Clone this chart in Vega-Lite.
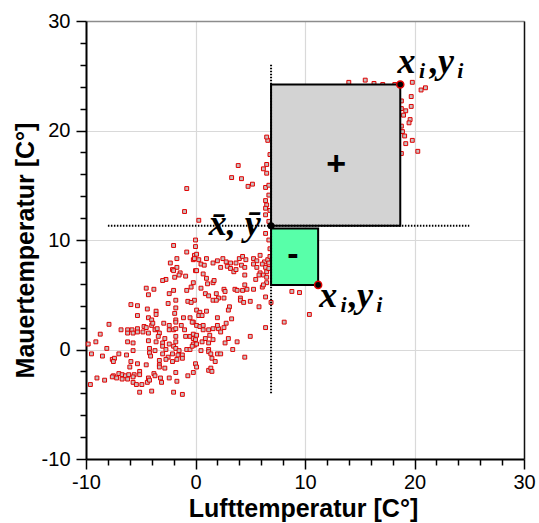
{
"$schema":"https://vega.github.io/schema/vega-lite/v6.json",
"width":438,"height":438,
"autosize":{"type":"none"},
"padding":{"left":86,"top":21,"right":15,"bottom":64},
"background":"white",
"config":{"view":{"stroke":null},"axis":{"labelFont":"Liberation Sans","labelFontSize":20,"labelColor":"black","titleFont":"Liberation Sans","titleFontSize":25,"titleFontWeight":"bold","titleColor":"black"}},
"datasets":{
"pts":[{"x":-2.0,"y":9.5},{"x":-0.8,"y":8.9},{"x":-0.1,"y":8.6},{"x":-1.7,"y":8.3},{"x":-0.2,"y":8.2},{"x":-2.3,"y":7.9},{"x":-1.7,"y":7.5},{"x":-2.1,"y":7.3},{"x":-2.0,"y":7.2},{"x":-1.4,"y":7.0},{"x":-1.5,"y":6.8},{"x":-1.9,"y":6.6},{"x":-0.9,"y":6.7},{"x":0.0,"y":7.2},{"x":-2.7,"y":6.4},{"x":-3.0,"y":6.3},{"x":-0.2,"y":6.1},{"x":-0.4,"y":5.7},{"x":-4.5,"y":5.6},{"x":-3.8,"y":5.5},{"x":-2.0,"y":5.4},{"x":-2.4,"y":5.1},{"x":-0.8,"y":5.4},{"x":-4.3,"y":5.0},{"x":-1.8,"y":4.5},{"x":-0.7,"y":4.4},{"x":-0.1,"y":4.5},{"x":-5.9,"y":4.1},{"x":-5.3,"y":4.0},{"x":-2.5,"y":4.2},{"x":-1.8,"y":3.8},{"x":-4.4,"y":3.7},{"x":-3.6,"y":3.5},{"x":-3.6,"y":3.2},{"x":-5.3,"y":3.1},{"x":-4.3,"y":2.9},{"x":-4.0,"y":2.7},{"x":-1.8,"y":2.7},{"x":-1.1,"y":2.9},{"x":-0.5,"y":2.9},
{"x":-1.9,"y":3.3},{"x":-0.2,"y":2.5},{"x":0.1,"y":2.2},{"x":-7.9,"y":2.3},{"x":-4.7,"y":2.1},{"x":-4.5,"y":2.0},{"x":-4.0,"y":2.2},{"x":-3.9,"y":2.4},{"x":-2.9,"y":2.4},{"x":-2.4,"y":2.2},{"x":-1.8,"y":2.5},{"x":-1.3,"y":2.2},{"x":-6.8,"y":1.8},{"x":-6.2,"y":1.8},{"x":-5.8,"y":1.8},{"x":-5.3,"y":1.9},{"x":-6.2,"y":1.5},{"x":-5.7,"y":1.5},{"x":-5.3,"y":1.6},{"x":-4.8,"y":1.6},{"x":-4.3,"y":1.5},{"x":-3.7,"y":1.8},{"x":-3.5,"y":1.9},{"x":-3.3,"y":1.5},{"x":-2.4,"y":1.8},{"x":-2.0,"y":1.8},{"x":-1.8,"y":1.9},{"x":-1.0,"y":1.8},{"x":-8.7,"y":1.4},{"x":-3.4,"y":1.2},{"x":-2.8,"y":1.0},{"x":-1.8,"y":1.2},{"x":-0.9,"y":1.2},{"x":-0.5,"y":1.2},{"x":-0.2,"y":1.0},{"x":-9.8,"y":0.5},{"x":-9.1,"y":0.7},{"x":-6.2,"y":0.7},{"x":-5.7,"y":0.6},{"x":-4.3,"y":0.8},{"x":-3.6,"y":0.7},{"x":-3.0,"y":0.6},{"x":-2.4,"y":0.5},{"x":-1.8,"y":0.7},{"x":-8.1,"y":0.1},{"x":-5.7,"y":-0.1},{"x":-4.2,"y":0.1},{"x":-3.7,"y":-0.1},{"x":-3.0,"y":0.3},{"x":-2.7,"y":0.0},{"x":-2.0,"y":0.3},{"x":-1.8,"y":0.1},{"x":-1.5,"y":-0.1},{"x":-0.8,"y":0.0},{"x":-0.5,"y":0.0},{"x":-0.1,"y":0.4},{"x":-9.5,"y":-0.4},{"x":-8.5,"y":-0.6},{"x":-7.0,"y":-0.4},{"x":-6.3,"y":-0.5},{"x":-4.2,"y":-0.3},{"x":-4.1,"y":-0.6},{"x":-3.0,"y":-0.4},{"x":-2.5,"y":-0.7},{"x":-2.1,"y":-0.4},{"x":-1.6,"y":-0.5},{"x":-1.2,"y":-0.5},{"x":-7.6,"y":-0.9},{"x":-7.4,"y":-0.8},{"x":-7.5,"y":-1.1},{"x":-5.9,"y":-1.1},{"x":-5.3,"y":-1.3},{"x":-4.5,"y":-1.4},{"x":-3.3,"y":-1.0},{"x":-3.3,"y":-1.4},{"x":-2.7,"y":-0.9},{"x":-2.1,"y":-1.1},{"x":-1.7,"y":-0.9},{"x":-1.2,"y":-0.8},{"x":-6.0,"y":-1.6},{"x":-3.3,"y":-1.6},{"x":-2.8,"y":-1.7},{"x":-5.1,"y":-2.0},{"x":-3.8,"y":-2.2},{"x":-3.7,"y":-2.4},{"x":-1.8,"y":-2.1},{"x":-0.2,"y":-2.1},{"x":-7.5,"y":-2.4},{"x":-7.0,"y":-2.2},{"x":-6.7,"y":-2.3},{"x":-6.4,"y":-2.4},{"x":-6.1,"y":-2.3},{"x":-5.6,"y":-2.3},{"x":-5.1,"y":-2.3},{"x":-9.0,"y":-2.6},{"x":-8.3,"y":-2.8},{"x":-7.6,"y":-2.5},{"x":-7.2,"y":-2.6},{"x":-6.7,"y":-2.7},{"x":-6.2,"y":-2.7},{"x":-5.7,"y":-2.5},{"x":-0.7,"y":-2.4},{"x":-4.3,"y":-2.6},{"x":-3.2,"y":-2.6},{"x":-2.4,"y":-2.6},{"x":-1.7,"y":-2.9},{"x":-3.1,"y":-3.0},{"x":-9.6,"y":-3.2},{"x":-5.7,"y":-3.0},{"x":-5.4,"y":-3.2},{"x":-4.9,"y":-3.2},{"x":-4.4,"y":-3.0},{"x":-4.2,"y":-2.8},{"x":-5.1,"y":-3.9},{"x":-4.0,"y":-3.8},{"x":-2.0,"y":-3.9},{"x":-1.2,"y":-4.1},
{"x":0.0,"y":9.4},{"x":0.1,"y":8.7},{"x":-0.1,"y":8.3},{"x":0.3,"y":8.2},{"x":1.0,"y":8.3},{"x":1.6,"y":7.9},{"x":2.0,"y":8.1},{"x":2.5,"y":8.3},{"x":2.8,"y":8.0},{"x":3.2,"y":7.9},{"x":3.7,"y":7.9},{"x":4.0,"y":8.3},{"x":4.3,"y":8.5},{"x":4.6,"y":8.2},{"x":5.3,"y":8.3},{"x":5.6,"y":8.1},{"x":5.9,"y":8.6},{"x":6.3,"y":8.0},{"x":6.6,"y":8.2},{"x":6.8,"y":8.5},{"x":0.5,"y":7.8},{"x":0.8,"y":7.7},{"x":2.3,"y":7.5},{"x":2.9,"y":7.6},{"x":3.2,"y":7.4},{"x":3.5,"y":7.1},{"x":3.7,"y":7.3},{"x":4.2,"y":7.7},{"x":4.5,"y":7.5},{"x":5.3,"y":7.8},{"x":5.6,"y":7.5},{"x":6.1,"y":7.8},{"x":6.4,"y":7.5},{"x":6.7,"y":7.9},{"x":0.1,"y":7.2},{"x":0.7,"y":6.9},{"x":1.0,"y":6.5},{"x":4.5,"y":6.8},{"x":5.9,"y":7.0},{"x":6.2,"y":6.8},{"x":6.5,"y":7.1},{"x":6.7,"y":7.4},{"x":0.5,"y":5.6},{"x":1.1,"y":6.0},{"x":1.6,"y":6.1},{"x":1.7,"y":6.3},{"x":2.6,"y":5.5},{"x":2.7,"y":5.3},{"x":3.6,"y":5.5},{"x":3.8,"y":5.4},{"x":4.3,"y":5.4},{"x":4.5,"y":5.9},{"x":4.7,"y":5.5},{"x":5.3,"y":5.5},{"x":5.5,"y":6.4},{"x":5.8,"y":6.8},{"x":6.1,"y":5.7},{"x":6.5,"y":6.1},{"x":6.5,"y":6.6},{"x":0.9,"y":5.1},{"x":1.2,"y":4.9},{"x":1.9,"y":5.1},{"x":2.1,"y":4.7},{"x":1.6,"y":4.5},{"x":1.9,"y":4.5},{"x":2.6,"y":4.7},{"x":4.1,"y":4.7},{"x":4.1,"y":4.5},{"x":4.4,"y":4.3},{"x":5.0,"y":4.4},{"x":5.8,"y":3.9},{"x":-0.4,"y":4.3},{"x":0.1,"y":3.6},{"x":0.4,"y":3.4},{"x":1.0,"y":3.5},{"x":3.1,"y":3.9},{"x":3.0,"y":3.6},{"x":2.0,"y":2.9},{"x":3.3,"y":2.8},{"x":6.9,"y":4.3},
{"x":0.3,"y":3.1},{"x":0.6,"y":3.1},{"x":2.8,"y":2.4},{"x":2.6,"y":2.0},{"x":2.1,"y":1.9},{"x":2.3,"y":1.6},{"x":6.4,"y":2.0},{"x":-0.3,"y":2.5},{"x":0.4,"y":2.1},{"x":0.7,"y":2.2},{"x":0.7,"y":1.8},{"x":1.2,"y":1.8},{"x":1.6,"y":1.9},{"x":2.0,"y":2.2},{"x":1.3,"y":1.3},{"x":1.6,"y":0.9},{"x":1.2,"y":0.6},{"x":3.0,"y":1.0},{"x":2.7,"y":0.6},{"x":3.8,"y":0.7},{"x":5.0,"y":1.2},{"x":-0.2,"y":1.4},{"x":0.1,"y":1.3},{"x":0.0,"y":0.9},{"x":-0.2,"y":0.5},{"x":0.1,"y":0.5},{"x":0.6,"y":0.7},{"x":0.9,"y":1.0},{"x":-0.3,"y":0.3},{"x":0.5,"y":-0.1},{"x":1.2,"y":0.0},{"x":1.2,"y":-0.2},{"x":1.4,"y":-0.4},{"x":2.0,"y":-0.4},{"x":2.3,"y":-0.4},{"x":3.4,"y":0.0},{"x":4.5,"y":-0.7},{"x":1.5,"y":-0.8},{"x":1.8,"y":-1.1},{"x":0.0,"y":-1.3},{"x":0.1,"y":-1.6},{"x":1.2,"y":-1.9},{"x":1.4,"y":-1.7},{"x":1.5,"y":-2.0},
{"x":3.9,"y":16.8},{"x":3.3,"y":15.7},{"x":4.2,"y":15.6},{"x":5.2,"y":15.1},{"x":4.8,"y":14.9},{"x":6.2,"y":16.5},{"x":6.5,"y":16.1},{"x":6.6,"y":19.1},{"x":6.8,"y":17.8},{"x":6.4,"y":14.8},{"x":-0.8,"y":14.7},{"x":6.4,"y":13.6},{"x":6.5,"y":13.2},{"x":6.7,"y":14.1},{"x":6.8,"y":12.7},{"x":-1.0,"y":12.6},{"x":0.3,"y":11.8},{"x":6.4,"y":12.3},{"x":6.4,"y":10.6},{"x":6.7,"y":10.0},{"x":6.8,"y":9.2},{"x":0.0,"y":10.0},{"x":6.2,"y":5.9},{"x":6.4,"y":4.8},{"x":8.8,"y":5.3},{"x":9.5,"y":5.2},{"x":8.1,"y":2.5},{"x":10.4,"y":3.2},
{"x":14.0,"y":24.4},{"x":15.5,"y":24.6},{"x":16.3,"y":24.3},{"x":17.1,"y":24.2},{"x":18.2,"y":24.2},{"x":19.8,"y":24.4},{"x":20.6,"y":23.7},{"x":21.0,"y":23.9},{"x":19.7,"y":23.1},{"x":19.7,"y":22.2},{"x":19.2,"y":21.8},{"x":19.0,"y":21.4},{"x":18.8,"y":20.4},{"x":18.9,"y":19.9},{"x":19.1,"y":19.5},{"x":19.6,"y":21.0},{"x":19.5,"y":20.7},{"x":18.8,"y":22.7},{"x":19.8,"y":19.1},{"x":19.2,"y":18.8},{"x":20.3,"y":18.1},{"x":18.8,"y":17.9},{"x":18.8,"y":22.0},{"x":6.5,"y":19.4},{"x":6.5,"y":16.9},{"x":6.7,"y":15.0},{"x":6.4,"y":12.9},{"x":6.7,"y":11.7}],
"grey":[{"x":6.9,"x2":18.7,"y":11.3,"y2":24.2}],
"green":[{"x":6.9,"x2":11.2,"y":5.9,"y2":11.05}],
"vrule":[{"x":6.9,"y":-4.0,"y2":26.0}],
"hrule":[{"y":11.3,"x":-8.0,"x2":25.0}],
"mean":[{"x":6.9,"y":11.3}],
"obs":[{"x":18.7,"y":24.2},{"x":11.2,"y":5.9}],
"signs":[{"x":12.85,"y":16.85,"t":"+"},{"x":8.9,"y":8.6,"t":"-"}],
"lblmain":[{"t":"x","x":18.45,"y":25.25},{"t":",","x":21.4,"y":25.25},{"t":"y","x":22.15,"y":25.25},{"t":"x","x":11.3,"y":3.91},{"t":",","x":14.0,"y":3.91},{"t":"y","x":14.75,"y":3.91}],
"lblsub":[{"t":"i","x":20.4,"y":24.8},{"t":"i","x":23.9,"y":24.8},{"t":"i","x":13.25,"y":3.45},{"t":"i","x":16.5,"y":3.45}],
"lblmean":[{"t":"x̄, ȳ","x":1.2,"y":10.46}]
},
"encoding":{
"x":{"field":"x","type":"quantitative","scale":{"domain":[-10,30],"nice":false,"zero":false},"axis":null},
"y":{"field":"y","type":"quantitative","scale":{"domain":[-10,30],"nice":false,"zero":false},"axis":null}
},
"resolve":{"axis":{"x":"independent","y":"independent"}},
"layer":[
{"data":{"name":"pts"},
"mark":{"type":"point","shape":"square","size":15,"filled":true,"fill":"#c8bfbf","stroke":"#e00000","strokeWidth":1,"opacity":1},
"encoding":{
"x":{"field":"x","type":"quantitative","scale":{"domain":[-10,30],"nice":false,"zero":false},
"axis":{"values":[-10,-8,-6,-4,-2,0,2,4,6,8,10,12,14,16,18,20,22,24,26,28,30],"labelExpr":"datum.value % 10 === 0 ? '' + datum.value : ''","labelOverlap":false,"labelFlush":false,"labelBound":false,"tickSize":{"condition":{"test":"datum.value % 10 === 0","value":10},"value":6},"tickColor":"black","tickWidth":1.5,"domainColor":"black","domainWidth":2,"grid":true,"gridColor":"#d9d9d9","gridWidth":1.2,"gridOpacity":{"condition":{"test":"datum.value % 10 === 0","value":1},"value":0},"labelPadding":3,"title":"Lufttemperatur [C°]","titleX":217,"titleY":57,"titleBaseline":"alphabetic","titleAlign":"center"}},
"y":{"field":"y","type":"quantitative","scale":{"domain":[-10,30],"nice":false,"zero":false},
"axis":{"values":[-10,-8,-6,-4,-2,0,2,4,6,8,10,12,14,16,18,20,22,24,26,28,30],"labelExpr":"datum.value % 10 === 0 ? '' + datum.value : ''","labelOverlap":false,"labelFlush":false,"labelBound":false,"tickSize":{"condition":{"test":"datum.value % 10 === 0","value":10},"value":6},"tickColor":"black","tickWidth":1.5,"domainColor":"black","domainWidth":2,"grid":true,"gridColor":"#d9d9d9","gridWidth":1.2,"gridOpacity":{"condition":{"test":"datum.value % 10 === 0","value":1},"value":0},"labelPadding":6,"title":"Mauertemperatur [C°]","titleX":-53,"titleY":229,"titleBaseline":"alphabetic","titleAlign":"center","titleAngle":-90}}
}},
{"data":{"name":"grey"},
"mark":{"type":"rect","fill":"#d3d3d3","stroke":"black","strokeWidth":2},
"encoding":{
"x":{"field":"x","type":"quantitative","scale":{"domain":[-10,30],"nice":false,"zero":false},"axis":{"orient":"top","labels":false,"ticks":false,"grid":false,"domainColor":"#8c8c8c","domainWidth":1.5,"title":null}},
"x2":{"field":"x2"},
"y":{"field":"y","type":"quantitative","scale":{"domain":[-10,30],"nice":false,"zero":false},"axis":{"orient":"right","labels":false,"ticks":false,"grid":false,"domainColor":"#111111","domainWidth":1.5,"title":null}},
"y2":{"field":"y2"}
}},
{"data":{"name":"green"},
"mark":{"type":"rect","fill":"#58ffa9","stroke":"black","strokeWidth":2},
"encoding":{"x2":{"field":"x2"},"y2":{"field":"y2"}}},
{"data":{"name":"vrule"},
"mark":{"type":"rule","color":"black","strokeWidth":2,"strokeDash":[1.5,1.5]},
"encoding":{"y2":{"field":"y2"}}},
{"data":{"name":"hrule"},
"mark":{"type":"rule","color":"black","strokeWidth":2,"strokeDash":[1.5,1.5]},
"encoding":{"x2":{"field":"x2"}}},
{"data":{"name":"mean"},
"mark":{"type":"circle","size":50,"color":"black","opacity":1}},
{"data":{"name":"obs"},
"mark":{"type":"point","shape":"circle","size":50,"filled":true,"fill":"black","stroke":"#e00000","strokeWidth":1.5,"opacity":1}},
{"data":{"name":"signs"},
"mark":{"type":"text","font":"Liberation Sans","fontWeight":"bold","fontSize":34,"align":"center","baseline":"middle","color":"black"},
"encoding":{"text":{"field":"t"}}},
{"data":{"name":"lblmain"},
"mark":{"type":"text","font":"Liberation Serif","fontWeight":"bold","fontStyle":"italic","fontSize":36,"align":"left","baseline":"alphabetic","color":"black"},
"encoding":{"text":{"field":"t"}}},
{"data":{"name":"lblsub"},
"mark":{"type":"text","font":"Liberation Serif","fontWeight":"bold","fontStyle":"italic","fontSize":22,"align":"left","baseline":"alphabetic","color":"black"},
"encoding":{"text":{"field":"t"}}},
{"data":{"name":"lblmean"},
"mark":{"type":"text","font":"Liberation Serif","fontWeight":"bold","fontStyle":"italic","fontSize":36,"align":"left","baseline":"alphabetic","color":"black"},
"encoding":{"text":{"field":"t"}}}
]
}
